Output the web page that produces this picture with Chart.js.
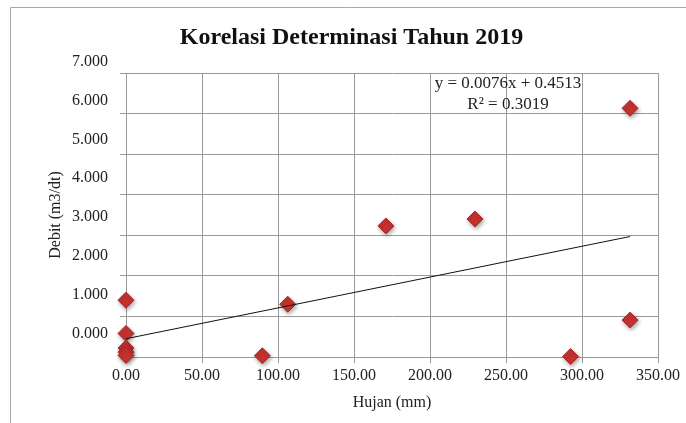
<!DOCTYPE html>
<html>
<head>
<meta charset="utf-8">
<script src="https://cdn.jsdelivr.net/npm/chart.js@4.4.1/dist/chart.umd.min.js"></script>
<style>
  body { margin: 0; background: #fff; }
  #wrap { width: 686px; height: 423px; position: relative; }
</style>
</head>
<body>
<div id="wrap"><canvas id="korelasiChart"></canvas></div>
<script>
// Data
var hujan = [0, 0, 0, 0, 0, 89.7, 106.4, 171, 229.6, 331.6, 331.6, 292.5];
var debit = [1.40, 0.58, 0.22, 0.12, 0.04, 0.03, 1.30, 3.23, 3.40, 6.13, 0.91, 0.01];
var trendX = [0, 331.6];
var trendY = [0.45, 2.97];
var xTicks = [0, 50, 100, 150, 200, 250, 300, 350];
var yTicks = [0, 1, 2, 3, 4, 5, 6, 7];
var judul = 'Korelasi Determinasi Tahun 2019';
var persamaan = ['y = 0.0076x + 0.4513', 'R\u00b2 = 0.3019'];

var serif = '"Liberation Serif", "Times New Roman", serif';
var grid = '#9a9a9a';
var red = '#C6322F';

var points = hujan.map(function(x, i) { return {x: x, y: debit[i]}; });
var trend = trendX.map(function(x, i) { return {x: x, y: trendY[i]}; });

var decor = {
    id: 'decor',
    beforeDraw: function(chart) {
        var ctx = chart.ctx;
        ctx.save();
        ctx.strokeStyle = '#a8a8a8';
        ctx.lineWidth = 1;
        ctx.beginPath();
        ctx.moveTo(10.5, chart.height);
        ctx.lineTo(10.5, 7.5);
        ctx.lineTo(chart.width, 7.5);
        ctx.stroke();
        ctx.restore();
    },
    beforeDatasetDraw: function(chart, args) {
        if (args.index !== 1) return;
        var ctx = chart.ctx;
        ctx.save();
        ctx.shadowColor = 'rgba(0,0,0,0.35)';
        ctx.shadowBlur = 4;
        ctx.shadowOffsetX = 1;
        ctx.shadowOffsetY = 2;
    },
    afterDatasetDraw: function(chart, args) {
        if (args.index === 1) chart.ctx.restore();
    },
    afterDraw: function(chart) {
        var ctx = chart.ctx;
        ctx.save();
        ctx.fillStyle = '#111';
        ctx.textAlign = 'center';
        ctx.textBaseline = 'middle';
        ctx.font = 'bold 24px ' + serif;
        ctx.fillText(judul, 351.5, 38);
        ctx.fillStyle = '#222';
        ctx.font = '17px ' + serif;
        ctx.fillText(persamaan[0], 508, 84);
        ctx.fillText(persamaan[1], 508, 105);
        ctx.restore();
    }
};

var ctx = document.getElementById('korelasiChart').getContext('2d');
var chart = new Chart(ctx, {
    type: 'scatter',
    data: {
        datasets: [{
            type: 'line',
            label: 'Trend',
            data: trend,
            borderColor: '#111',
            borderWidth: 1,
            pointRadius: 0,
            fill: false,
            tension: 0
        }, {
            label: 'Debit',
            data: points,
            pointStyle: 'rectRot',
            pointRadius: 8,
            pointHoverRadius: 8,
            backgroundColor: red,
            borderColor: '#A82A2B',
            borderWidth: 1,
            clip: false
        }]
    },
    options: {
        responsive: true,
        maintainAspectRatio: false,
        animation: false,
        layout: { padding: { top: 73, right: 28, bottom: 0, left: 0 } },
        plugins: {
            legend: { display: false },
            tooltip: { enabled: false }
        },
        scales: {
            x: {
                type: 'linear',
                min: 0,
                max: 350,
                afterBuildTicks: function(s) { s.ticks = xTicks.map(function(v) { return {value: v}; }); },
                afterFit: function(s) { s.height = 66; },
                grid: { color: grid, tickLength: 6, lineWidth: 1 },
                border: { color: grid },
                ticks: {
                    padding: 3,
                    color: '#222',
                    font: { family: serif, size: 16 },
                    callback: function(v) { return Number(v).toFixed(2); }
                },
                title: {
                    display: true,
                    text: 'Hujan (mm)',
                    color: '#222',
                    font: { family: serif, size: 16 },
                    padding: { top: 0, bottom: 11 }
                }
            },
            y: {
                type: 'linear',
                position: 'left',
                weight: 0,
                min: 0,
                max: 7,
                afterBuildTicks: function(s) { s.ticks = yTicks.map(function(v) { return {value: v}; }); },
                afterFit: function(s) { s.width = 6; },
                grid: { color: grid, tickLength: 6 },
                border: { color: grid },
                ticks: { display: false }
            },
            yLabel: {
                type: 'linear',
                position: 'left',
                weight: 1,
                min: -0.61,
                max: 6.71,
                afterBuildTicks: function(s) { s.ticks = yTicks.map(function(v) { return {value: v}; }); },
                afterFit: function(s) { s.width = 120; },
                grid: { display: false, drawTicks: false },
                border: { display: false },
                ticks: {
                    autoSkip: false,
                    padding: 12,
                    color: '#222',
                    font: { family: serif, size: 16 },
                    callback: function(v) { return Number(v).toFixed(3); }
                },
                title: {
                    display: true,
                    text: 'Debit (m3/dt)',
                    color: '#222',
                    font: { family: serif, size: 16 },
                    padding: { top: 46, bottom: 0 }
                }
            }
        }
    },
    plugins: [decor]
});
</script>
</body>
</html>
